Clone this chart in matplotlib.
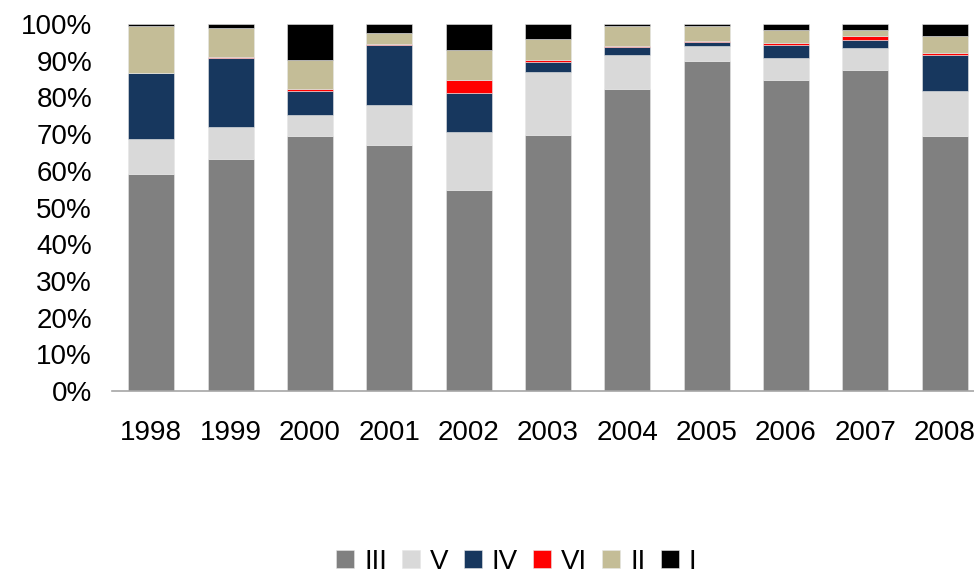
import numpy as np
import matplotlib
matplotlib.use('Agg')
import matplotlib.pyplot as plt
from matplotlib.ticker import PercentFormatter

plt.rcParams['font.family'] = ['Liberation Sans', 'DejaVu Sans']

# anos e quotas (%) de cada classe
anos = ['1998', '1999', '2000', '2001', '2002', '2003', '2004', '2005', '2006', '2007', '2008']
classe_III = [59.1, 63.1, 69.6, 67.1, 54.8, 69.7, 82.3, 89.9, 84.7, 87.6, 69.5]
classe_V = [9.7, 8.9, 5.6, 10.9, 15.7, 17.1, 9.3, 4.2, 6.1, 5.8, 12.2]
classe_IV = [17.8, 18.7, 6.6, 16.4, 10.8, 2.9, 2.1, 1.1, 3.6, 2.2, 9.8]
classe_VI = [0.1, 0.3, 0.6, 0.2, 3.4, 0.6, 0.4, 0.2, 0.4, 1.1, 0.7]
classe_II = [12.8, 7.9, 7.7, 3.0, 8.3, 5.6, 5.4, 4.1, 3.5, 1.6, 4.4]
classe_I = [0.5, 1.1, 9.9, 2.4, 7.0, 4.1, 0.5, 0.5, 1.7, 1.7, 3.4]

series = [('III', classe_III, '#808080'),
          ('V', classe_V, '#d9d9d9'),
          ('IV', classe_IV, '#17375e'),
          ('VI', classe_VI, '#ff0000'),
          ('II', classe_II, '#c4bd97'),
          ('I', classe_I, '#000000')]

fig = plt.figure(figsize=(9.74, 5.73), dpi=100)
ax = fig.add_axes([0.1145, 0.3176, 0.896, 0.6405])

x = np.arange(len(anos))
base = np.zeros(len(anos))
for nome, valores, cor in series:
    v = np.array(valores)
    ax.bar(x, v, bottom=base, width=0.58, color=cor, label=nome,
           edgecolor='#e6e6e6', linewidth=0.4)
    base += v

ax.set_xlim(-0.5, 10.5)
ax.set_ylim(0, 100)
ax.set_yticks(np.arange(0, 101, 10))
ax.yaxis.set_major_formatter(PercentFormatter(decimals=0))
ax.set_xticks(x)
ax.set_xticklabels(anos)

for lado in ['top', 'right', 'left']:
    ax.spines[lado].set_visible(False)
ax.spines['bottom'].set_color('#a6a6a6')
ax.spines['bottom'].set_linewidth(1.2)
ax.tick_params(axis='both', length=0, labelsize=20, colors='black')
ax.tick_params(axis='y', pad=14)
ax.tick_params(axis='x', pad=21)

# legenda em baixo, centrada
fig.legend(loc='center', bbox_to_anchor=(0.53, 0.02), ncol=6, frameon=False,
           fontsize=20, handlelength=0.65, handleheight=0.65, handletextpad=0.35,
           columnspacing=0.55, borderpad=0.1)

fig.savefig('out.png', dpi=100)
